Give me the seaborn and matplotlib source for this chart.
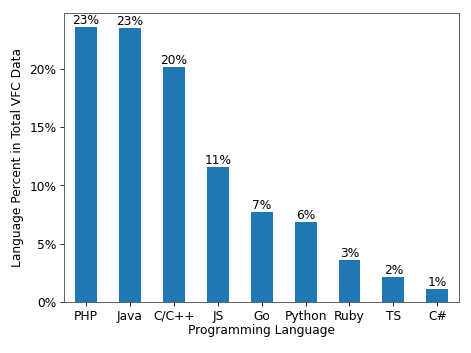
import pandas as pd
import matplotlib.pyplot as plt
import seaborn as sns
from matplotlib.ticker import PercentFormatter

# Dados
languages = ["PHP", "Java", "C/C++", "JS", "Go", "Python", "Ruby", "TS", "C#"]
percent = [23.63, 23.52, 20.14, 11.61, 7.73, 6.84, 3.60, 2.12, 1.12]

df = pd.DataFrame({"language": languages, "percent": percent})

fig, ax = plt.subplots(figsize=(6.4, 4.8), dpi=73.6)
sns.barplot(data=df, x="language", y="percent", color="#1f77b4",
            saturation=1, width=0.5, ax=ax)

for i, v in enumerate(df["percent"]):
    ax.text(i, v, f"{int(v)}%", ha="center", va="bottom", fontsize=12)

ax.yaxis.set_major_formatter(PercentFormatter(100, decimals=0))
ax.set_xlim(-0.5, len(languages) - 0.5)
ax.set_ylim(0, max(percent) * 1.05)
ax.set_xlabel("Programming Language", fontsize=12, labelpad=1)
ax.set_ylabel("Language Percent in Total VFC Data", fontsize=12, labelpad=5)
ax.tick_params(labelsize=12, pad=4)
for s in ax.spines.values():
    s.set_color("#444444")
fig.subplots_adjust(left=0.136, right=0.975, top=0.963, bottom=0.145)
plt.savefig("out.png")
